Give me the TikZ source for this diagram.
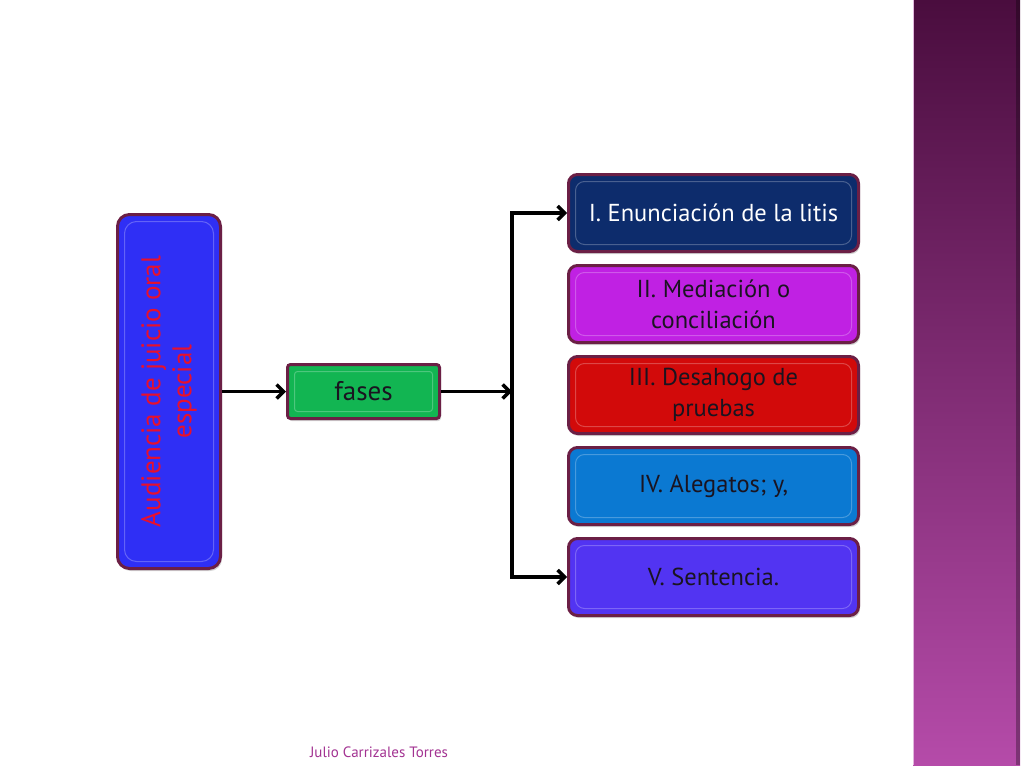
\documentclass[tikz,border=0pt]{standalone}
\usepackage{fontspec}
\setmainfont{PT Sans}
\usetikzlibrary{positioning,arrows.meta,shadows}

\definecolor{rim}{HTML}{6B1F45}
\definecolor{audblue}{HTML}{2F2FF5}
\definecolor{audred}{HTML}{E8102C}
\definecolor{fasegreen}{HTML}{12B552}
\definecolor{navy}{HTML}{0D2C6C}
\definecolor{violeta}{HTML}{C021E3}
\definecolor{rojo}{HTML}{D20A0A}
\definecolor{azul}{HTML}{0B79D2}
\definecolor{indigo}{HTML}{5234F2}
\definecolor{bartop}{HTML}{4A0D3E}
\definecolor{barbot}{HTML}{B54BA9}
\definecolor{autor}{HTML}{A23291}
\definecolor{ink}{HTML}{1A1420}

\tikzset{
  phasebox/.style={draw=rim, line width=3pt, rounded corners=9pt, fill=#1,
    align=center, text=ink, font=\fontsize{24.5}{31}\selectfont,
    drop shadow={shadow xshift=1.5pt, shadow yshift=-2.5pt, opacity=0.35},
    path picture={\draw[white, opacity=0.25, line width=1pt]
      ([shift={(7pt,-7pt)}]path picture bounding box.north west) rectangle
      ([shift={(-7pt,7pt)}]path picture bounding box.south east);}},
  stagebox/.style={phasebox=#1, minimum width=290pt, minimum height=77pt},
  link/.style={line width=3.5pt, -{Straight Barb[length=7pt,width=14pt]}},
}

\begin{document}
\begin{tikzpicture}[x=1pt, y=-1pt]
  \useasboundingbox (0,0) rectangle (1024,768);

  % side bar
  \shade[top color=bartop, bottom color=barbot] (913,0) rectangle (1020,765);
  \fill[black, opacity=0.3] (1016,0) rectangle (1020,765);
  \draw[barbot!40, line width=1pt] (913.5,0) -- (913.5,765);

  % main boxes
  \node[phasebox=audblue, rounded corners=12pt, minimum width=103pt, minimum height=354pt] (aud) at (169,391.5) {};
  \node[rotate=90, align=center, text=audred, font=\fontsize{27}{31}\selectfont] (audtext) at (aud.center) {Audiencia de juicio oral\\especial};
  \node[phasebox=fasegreen, rounded corners=3pt, minimum width=152pt, minimum height=54pt, font=\fontsize{27}{31}\selectfont] (fases) at (363.5,391.5) {fases};

  % stages
  \node[stagebox=navy, text=white] (enun) at (713.5,213) {I. Enunciación de la litis};
  \node[stagebox=violeta] (media) [below=11pt of enun] {II. Mediación o\\conciliación};
  \node[stagebox=rojo] (desah) [below=11pt of media] {III. Desahogo de\\pruebas};
  \node[stagebox=azul] (aleg) [below=11pt of desah] {IV. Alegatos; y,};
  \node[stagebox=indigo] (sent) [below=11pt of aleg] {V. Sentencia.};

  \coordinate (trunk) at (512,391.5);
  \draw[link] (aud.east) -- (fases.west);
  \draw[link] (fases.east) -- (trunk);
  \draw[link] (trunk) |- (enun.west);
  \draw[link] (trunk) |- (sent.west);

  \node[text=autor, font=\fontsize{15}{17}\selectfont] (autor) at (379,752) {Julio Carrizales Torres};
\end{tikzpicture}
\end{document}
